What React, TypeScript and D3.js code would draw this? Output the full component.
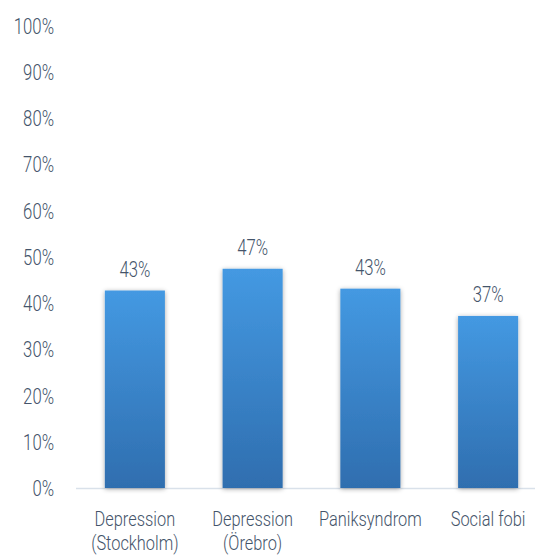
import React from "react";
import * as d3 from "d3";

const categories = [["Depression", "(Stockholm)"], ["Depression", "(Örebro)"], ["Paniksyndrom"], ["Social fobi"]];
const values = [42.7, 47.4, 43.1, 37.2];
const labels = ["43%", "47%", "43%", "37%"];
const yTicks = [0, 10, 20, 30, 40, 50, 60, 70, 80, 90, 100];

const W = 535, H = 556;
const FONT = "Roboto, 'DejaVu Sans', sans-serif";
const TXT = "#44546a";

function CText({ x, y, anchor, size, sx, children }: { x: number; y: number; anchor: string; size: number; sx: number; children: React.ReactNode }) {
  return (
    <text transform={`translate(${x},${y}) scale(${sx},1)`} textAnchor={anchor} fontFamily={FONT} fontWeight={300} fontSize={size} fill={TXT}>
      {children}
    </text>
  );
}

export default function App() {
  const x = d3.scaleBand<number>().domain(d3.range(values.length)).range([76, 547]).paddingInner(0.49).paddingOuter(0.245);
  const y = d3.scaleLinear().domain([0, 100]).range([488, 25.5]);
  return (
    <svg width={W} height={H} style={{ position: "absolute", left: 0, top: 0, background: "#fff" }}>
      <defs>
        <linearGradient id="barG" x1="0" y1="0" x2="0" y2="1">
          <stop offset="0" stopColor="#4499e2" />
          <stop offset="1" stopColor="#2f6eaf" />
        </linearGradient>
        <filter id="sh" x="-30%" y="-10%" width="160%" height="120%">
          <feGaussianBlur in="SourceAlpha" stdDeviation="2.5" />
          <feOffset dx="0" dy="1" result="b" />
          <feComponentTransfer><feFuncA type="linear" slope="0.35" /></feComponentTransfer>
          <feMerge><feMergeNode /><feMergeNode in="SourceGraphic" /></feMerge>
        </filter>
      </defs>
      {yTicks.map((t) => (
        <CText key={t} x={54} y={y(t) + 8} anchor="end" size={22} sx={0.76}>{t}%</CText>
      ))}
      <line x1={76} x2={535} y1={488.5} y2={488.5} stroke="#d9e1ea" strokeWidth={1.5} />
      {values.map((v, i) => (
        <g key={i}>
          <rect x={x(i)} y={y(v)} width={x.bandwidth()} height={y(0) - y(v)} fill="url(#barG)" filter="url(#sh)" />
          <CText x={x(i)! + x.bandwidth() / 2} y={y(v) - 14} anchor="middle" size={22} sx={0.76}>{labels[i]}</CText>
          {categories[i].map((l, j) => (
            <CText key={j} x={x(i)! + x.bandwidth() / 2} y={526 + j * 24} anchor="middle" size={21} sx={0.78}>{l}</CText>
          ))}
        </g>
      ))}
    </svg>
  );
}
